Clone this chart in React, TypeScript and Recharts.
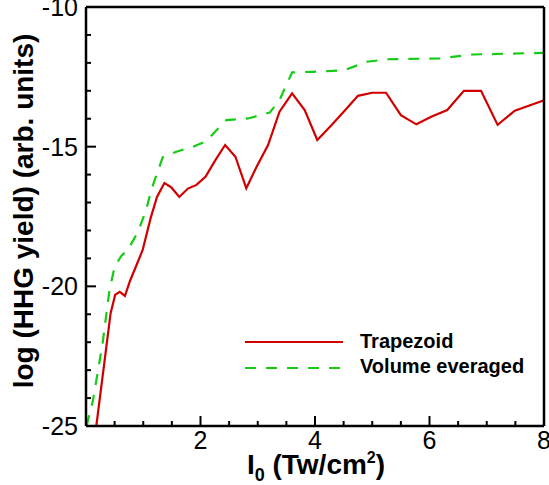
import React from 'react';
import { LineChart, Line, XAxis, YAxis, Legend } from 'recharts';

const trapezoidX = [0.18, 0.43, 0.51, 0.59, 0.68, 0.77, 0.99, 1.13, 1.24, 1.37, 1.49, 1.63, 1.78, 1.93, 2.09, 2.26, 2.43, 2.61, 2.8, 2.98, 3.18, 3.38, 3.6, 3.82, 4.04, 4.27, 4.49, 4.75, 5.0, 5.24, 5.5, 5.77, 6.03, 6.31, 6.6, 6.9, 7.19, 7.49, 7.99];
const trapezoidY = [-25, -20.96, -20.3, -20.2, -20.34, -19.8, -18.7, -17.55, -16.8, -16.3, -16.46, -16.8, -16.5, -16.37, -16.07, -15.48, -14.94, -15.36, -16.49, -15.72, -14.94, -13.75, -13.09, -13.69, -14.76, -14.27, -13.78, -13.18, -13.07, -13.07, -13.87, -14.2, -13.93, -13.69, -13.0, -13.0, -14.22, -13.71, -13.35];

const volumeX = [0.01, 0.12, 0.29, 0.41, 0.5, 0.62, 0.73, 0.91, 1.05, 1.14, 1.34, 1.58, 1.87, 2.09, 2.45, 2.83, 3.21, 3.38, 3.6, 3.96, 4.31, 4.52, 4.9, 5.28, 6.18, 6.76, 7.99];
const volumeY = [-25, -24.1, -22.04, -20.13, -19.3, -18.9, -18.7, -18.04, -17.27, -16.55, -15.38, -15.18, -15.0, -14.82, -14.05, -13.99, -13.78, -13.33, -12.34, -12.32, -12.29, -12.26, -11.96, -11.87, -11.84, -11.7, -11.64];

const xTicks = [0, 0.5, 1, 1.5, 2, 2.5, 3, 3.5, 4, 4.5, 5, 5.5, 6, 6.5, 7, 7.5, 8];
const xLabels = [2, 4, 6, 8];
const yTicks = [-25, -24, -23, -22, -21, -20, -19, -18, -17, -16, -15, -14, -13, -12, -11, -10];
const yLabels = [-25, -20, -15, -10];

const seriesNames = ['Trapezoid', 'Volume everaged'];

const trapezoid = trapezoidX.map((x, i) => ({ x, y: trapezoidY[i] }));
const volume = volumeX.map((x, i) => ({ x, y: volumeY[i] }));

const FONT = '"Liberation Sans", Arial, Helvetica, sans-serif';
const RED = '#d10000';
const GREEN = '#14cc14';

const XTick = (props: any) => {
  const x = Number(props.x);
  const y = Number(props.y);
  const v = Number(props.payload.value);
  const major = Math.abs(v - Math.round(v)) < 1e-9 && Math.round(v) % 2 === 0;
  return (
    <g>
      <line x1={x} x2={x} y1={y} y2={y - (major ? 10 : 5)} stroke="#000" strokeWidth={2} />
      {xLabels.includes(v) && (
        <text x={x} y={y + 23} textAnchor="middle" fontFamily={FONT} fontSize={25} fill="#000">
          {v}
        </text>
      )}
    </g>
  );
};

const YTick = (props: any) => {
  const x = Number(props.x);
  const y = Number(props.y);
  const v = Number(props.payload.value);
  const major = v % 5 === 0;
  return (
    <g>
      <line x1={x} x2={x + (major ? 10 : 5)} y1={y} y2={y} stroke="#000" strokeWidth={2} />
      {yLabels.includes(v) && (
        <text x={x - 8} y={y + 9} textAnchor="end" fontFamily={FONT} fontSize={25} fill="#000">
          {v}
        </text>
      )}
    </g>
  );
};

const YTitle = () => (
  <text
    x={33}
    y={211}
    transform="rotate(-90 33 211)"
    textAnchor="middle"
    fontFamily={FONT}
    fontSize={28}
    fontWeight="bold"
    fill="#000"
  >
    log (HHG yield) (arb. units)
  </text>
);

const XTitle = () => (
  <text x={316} y={474} textAnchor="middle" fontFamily={FONT} fontSize={28} fontWeight="bold" fill="#000">
    <tspan>I</tspan>
    <tspan fontSize={18} dy={7}>0</tspan>
    <tspan dy={-7}> (Tw/cm</tspan>
    <tspan fontSize={16} dy={-11}>2</tspan>
    <tspan dy={11}>)</tspan>
  </text>
);

const LegendContent = () => (
  <svg width={300} height={56} style={{ display: 'block' }}>
    <line x1={0} x2={98} y1={17} y2={17} stroke={RED} strokeWidth={2.2} />
    <text x={115} y={23} fontFamily={FONT} fontSize={20} fontWeight="bold" fill="#000">
      {seriesNames[0]}
    </text>
    <line x1={0} x2={98} y1={43} y2={43} stroke={GREEN} strokeWidth={2.2} strokeDasharray="11 10" />
    <text x={115} y={48} fontFamily={FONT} fontSize={20} fontWeight="bold" fill="#000">
      {seriesNames[1]}
    </text>
  </svg>
);

export default function App() {
  return (
    <div style={{ position: 'absolute', left: 0, top: 0, width: 549, height: 485, background: '#fff' }}>
      <LineChart width={549} height={485} margin={{ top: 6, right: 4, bottom: 0, left: 0 }}>
        <XAxis
          xAxisId="main"
          dataKey="x"
          type="number"
          domain={[0, 8]}
          ticks={xTicks}
          interval={0}
          tickSize={0}
          tickMargin={0}
          tickLine={false}
          tick={<XTick />}
          axisLine={{ stroke: '#000', strokeWidth: 2.5 }}
          height={59}
          label={<XTitle />}
        />
        <XAxis
          xAxisId="top"
          orientation="top"
          type="number"
          domain={[0, 8]}
          tick={false}
          tickLine={false}
          axisLine={{ stroke: '#000', strokeWidth: 2.5 }}
          height={1}
        />
        <YAxis
          yAxisId="main"
          type="number"
          domain={[-25, -10]}
          ticks={yTicks}
          interval={0}
          tickSize={0}
          tickMargin={0}
          tickLine={false}
          tick={<YTick />}
          axisLine={{ stroke: '#000', strokeWidth: 2.5 }}
          width={86}
          label={<YTitle />}
        />
        <YAxis
          yAxisId="right"
          orientation="right"
          type="number"
          domain={[-25, -10]}
          tick={false}
          tickLine={false}
          axisLine={{ stroke: '#000', strokeWidth: 2.5 }}
          width={1}
        />
        <Line
          xAxisId="main"
          yAxisId="main"
          data={trapezoid}
          dataKey="y"
          name={seriesNames[0]}
          stroke={RED}
          strokeWidth={2.2}
          dot={false}
          activeDot={false}
          isAnimationActive={false}
        />
        <Line
          xAxisId="main"
          yAxisId="main"
          data={volume}
          dataKey="y"
          name={seriesNames[1]}
          stroke={GREEN}
          strokeWidth={2.2}
          strokeDasharray="11 10"
          dot={false}
          activeDot={false}
          isAnimationActive={false}
        />
        <Legend
          layout="vertical"
          align="center"
          verticalAlign="middle"
          content={<LegendContent />}
          wrapperStyle={{ position: 'absolute', left: 245, top: 325, width: 300, height: 56 }}
        />
      </LineChart>
    </div>
  );
}
